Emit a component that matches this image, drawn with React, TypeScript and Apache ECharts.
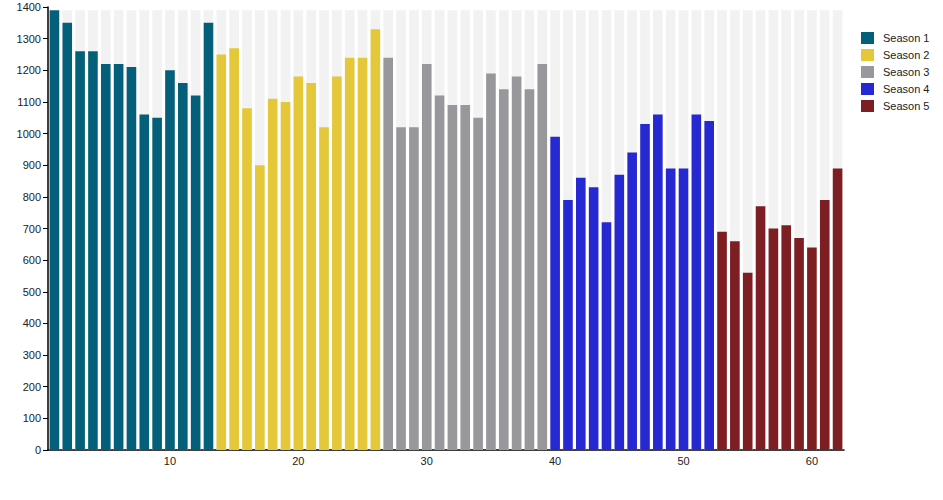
import React, { useEffect, useRef } from "react";
import * as echarts from "echarts";

const season1 = [1390, 1350, 1260, 1260, 1220, 1220, 1210, 1060, 1050, 1200, 1160, 1120, 1350];
const season2 = [1250, 1270, 1080, 900, 1110, 1100, 1180, 1160, 1020, 1180, 1240, 1240, 1330];
const season3 = [1240, 1020, 1020, 1220, 1120, 1090, 1090, 1050, 1190, 1140, 1180, 1140, 1220];
const season4 = [990, 790, 860, 830, 720, 870, 940, 1030, 1060, 890, 890, 1060, 1040];
const season5 = [690, 660, 560, 770, 700, 710, 670, 640, 790, 890];

const seasonNames = ["Season 1", "Season 2", "Season 3", "Season 4", "Season 5"];
const seasonColors = ["#04607a", "#e4c83a", "#97979c", "#2628d2", "#7d1e22"];
const seasons = [season1, season2, season3, season4, season5];
const backgroundValue = 1390;

export default function App() {
  const ref = useRef<HTMLDivElement>(null);
  useEffect(() => {
    if (!ref.current) return;
    document.body.style.margin = "0";
    const chart = echarts.init(ref.current, null, { renderer: "svg" });
    const total = seasons.reduce((s, a) => s + a.length, 0);
    const categories = Array.from({ length: total }, (_, i) => String(i + 1));
    let offset = 0;
    const seasonSeries = seasons.map((vals, si) => {
      const data: any[] = new Array(total).fill("-");
      vals.forEach((v, i) => (data[offset + i] = v));
      offset += vals.length;
      return {
        name: seasonNames[si],
        type: "bar",
        data,
        barWidth: 9.6,
        barGap: "-100%",
        itemStyle: { color: seasonColors[si] },
        z: 3,
      };
    });
    const font = "'Liberation Sans', Arial, Helvetica, sans-serif";
    chart.setOption({
      animation: false,
      textStyle: { fontFamily: font },
      grid: { left: 48, right: 99, top: 7, bottom: 50, containLabel: false },
      legend: {
        data: seasonNames,
        orient: "vertical",
        left: 861,
        top: 32,
        padding: 0,
        icon: "rect",
        itemWidth: 13,
        itemHeight: 12,
        itemGap: 5,
        textStyle: { fontSize: 11, color: "#222", fontFamily: font, padding: [0, 0, 0, 4] },
      },
      xAxis: {
        type: "category",
        data: categories,
        axisLine: { lineStyle: { color: "#000", width: 1.5 } },
        axisTick: { show: false },
        axisLabel: {
          interval: (index: number) => (index + 1) % 10 === 0,
          fontSize: 11,
          color: "#222",
          margin: 5,
        },
      },
      yAxis: {
        type: "value",
        min: 0,
        max: 1400,
        interval: 100,
        splitLine: { show: false },
        axisLine: { show: true, lineStyle: { color: "#000", width: 1.5 } },
        axisTick: { show: true, length: 5, lineStyle: { color: "#000" } },
        axisLabel: { fontSize: 11, color: "#222", margin: 7, formatter: (v: number) => String(v) },
      },
      series: [
        {
          name: "bg",
          type: "bar",
          data: categories.map(() => backgroundValue),
          barWidth: 9.6,
          barGap: "-100%",
          itemStyle: { color: "#f2f2f2" },
          silent: true,
          z: 1,
        },
        ...seasonSeries,
      ],
    });
    return () => chart.dispose();
  }, []);
  return <div ref={ref} style={{ width: 943, height: 500 }} />;
}
